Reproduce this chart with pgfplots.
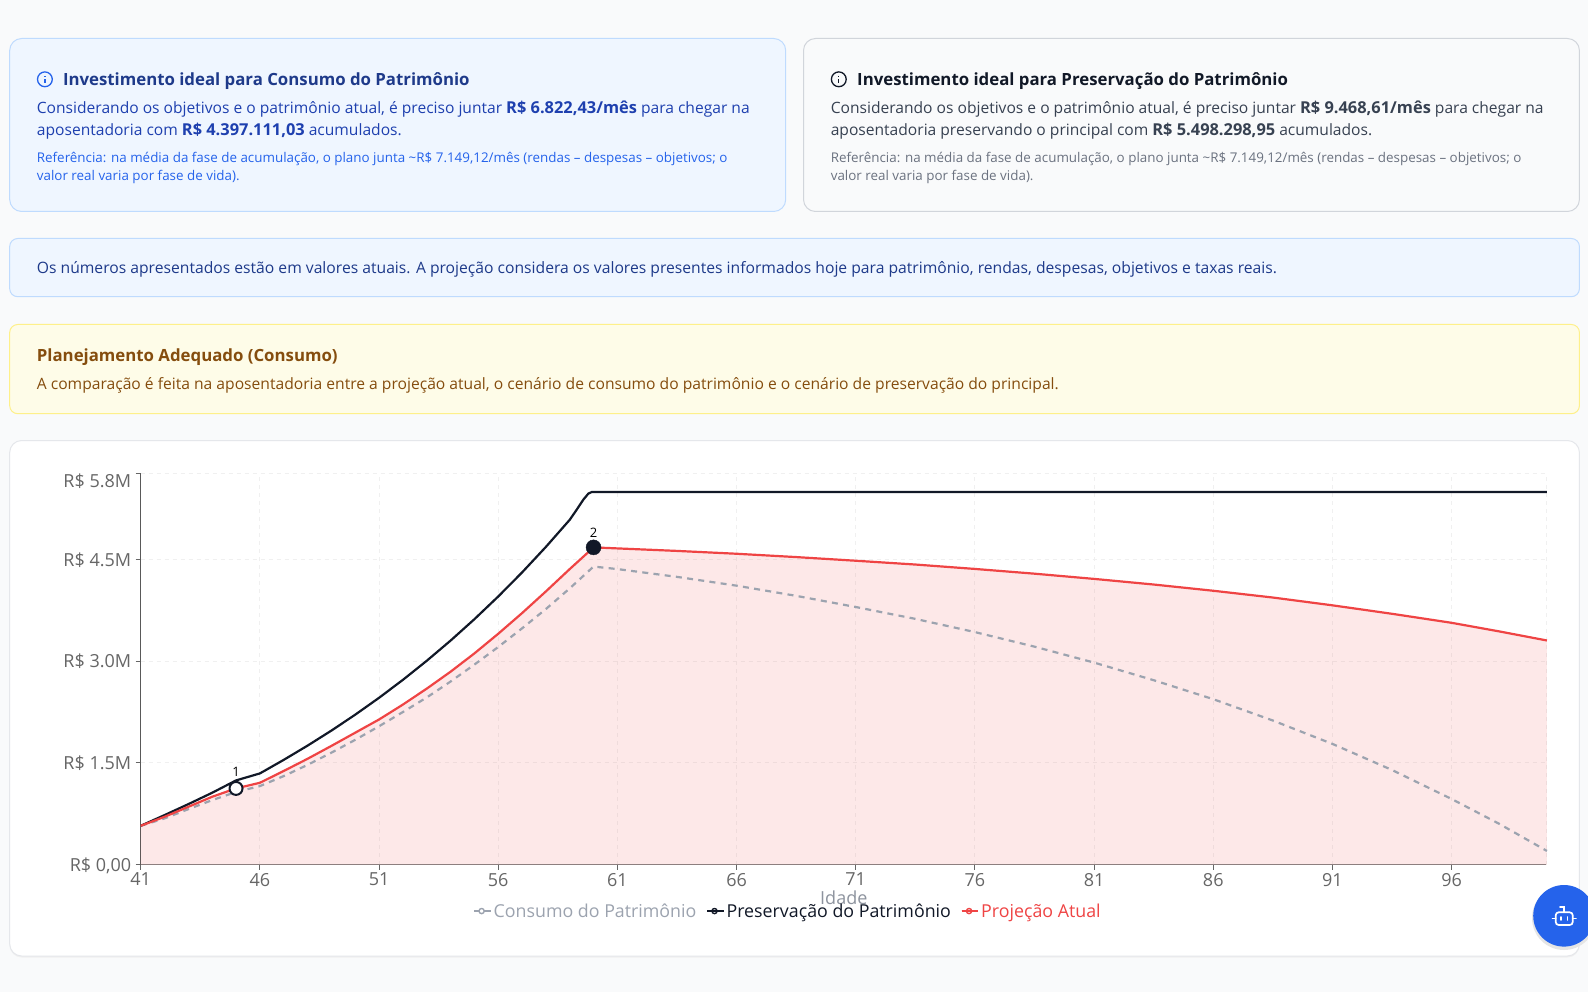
\documentclass[border=0pt]{standalone}
\usepackage{pgfplots}
\pgfplotsset{compat=1.18}
\usepackage{fontspec}
\setmainfont{Open Sans}
\newcommand{\semib}{\bfseries}
\definecolor{pagebg}{HTML}{F9FAFB}
\definecolor{bluefill}{HTML}{EFF6FF}
\definecolor{blueborder}{HTML}{BFDBFE}
\definecolor{bluetitle}{HTML}{1E3A8A}
\definecolor{bluebody}{HTML}{1E40AF}
\definecolor{bluesmall}{HTML}{2563EB}
\definecolor{grayborder}{HTML}{D1D5DB}
\definecolor{graytitle}{HTML}{111827}
\definecolor{graybody}{HTML}{374151}
\definecolor{graysmall}{HTML}{6B7280}
\definecolor{yelfill}{HTML}{FEFCE8}
\definecolor{yelborder}{HTML}{FEF08A}
\definecolor{yeltext}{HTML}{854D0E}
\definecolor{cardborder}{HTML}{E5E7EB}
\definecolor{serred}{HTML}{EF4444}
\definecolor{sergray}{HTML}{9CA3AF}
\definecolor{sernavy}{HTML}{111827}
\definecolor{ticktext}{HTML}{666666}
\newcommand{\fs}[1]{\fontsize{#1}{#1}\selectfont}
\newcommand{\bb}[1]{{\fs{16.4}\bfseries #1}}
\pgfplotstableread{
age val
41 0.571
42 0.729
43 0.891
44 1.059
45 1.241
46 1.344
47 1.544
48 1.754
49 1.976
50 2.211
51 2.460
52 2.725
53 3.006
54 3.304
55 3.620
56 3.955
57 4.310
58 4.687
59 5.087
59.3 5.240
59.57 5.384
59.78 5.473
59.93 5.498
70 5.498
80 5.498
90 5.498
100 5.498
}\preserv
\pgfplotstableread{
age val
41 0.571
42 0.704
43 0.852
44 1.000
45 1.123
46 1.206
47 1.380
48 1.560
49 1.750
50 1.945
51 2.140
52 2.360
53 2.595
54 2.845
55 3.115
56 3.405
57 3.710
58 4.030
59 4.360
60 4.680
61 4.665
63.5 4.628
66 4.586
68.5 4.537
71 4.483
73.5 4.427
76 4.362
78.5 4.292
81 4.215
83.5 4.132
86 4.040
88.5 3.940
91 3.825
93.5 3.700
96 3.567
98 3.440
100 3.306
}\atual
\pgfplotstableread{
age val
41 0.571
42 0.680
43 0.817
44 0.950
45 1.070
46 1.157
47 1.305
48 1.470
49 1.650
50 1.840
51 2.040
52 2.250
53 2.465
54 2.700
55 2.950
56 3.210
57 3.485
58 3.770
59 4.075
60 4.397
61 4.360
63.5 4.245
66 4.115
68.5 3.965
71 3.800
73.5 3.625
76 3.430
78.5 3.215
81 2.980
83.5 2.720
86 2.440
88.5 2.125
91 1.780
93.5 1.395
96 0.967
98 0.600
100 0.200
}\consumo
\begin{document}
\begin{tikzpicture}[x=1pt,y=-1pt]
\clip (0,0) rectangle (1588,992);
\fill[pagebg] (0,0) rectangle (1588,992);
% cards
\draw[rounded corners=12pt,fill=bluefill,draw=blueborder,line width=1pt] (9.7,38.5) rectangle (785.7,211.5);
\draw[rounded corners=12pt,fill=pagebg,draw=grayborder,line width=1pt] (803.5,38.5) rectangle (1579.4,211.5);
\draw[rounded corners=8pt,fill=bluefill,draw=blueborder,line width=1pt] (9.7,238.5) rectangle (1579.4,296.7);
\draw[rounded corners=8pt,fill=yelfill,draw=yelborder,line width=1pt] (9.7,324.5) rectangle (1579.4,413.7);
\fill[black!6,rounded corners=12pt] (9.7,441.5) rectangle (1579.4,957.5);
\draw[rounded corners=12pt,fill=white,draw=cardborder,line width=1pt] (9.7,440.5) rectangle (1579.4,956);
% info icons
\draw[bluesmall,line width=1.3pt] (44.9,79.3) circle (7.4);
\draw[bluesmall,line width=1.3pt] (44.9,79.2)--(44.9,82.8) (44.9,75.8)--(44.9,76.3);
\draw[graytitle,line width=1.3pt] (838.8,79.3) circle (7.4);
\draw[graytitle,line width=1.3pt] (838.8,79.2)--(838.8,82.8) (838.8,75.8)--(838.8,76.3);
% card 1 text
\node[anchor=base west,inner sep=0,text=bluetitle] at (62.8,85.5) {\fs{16.8}\semib Investimento ideal para Consumo do Patrimônio};
\node[anchor=base west,inner sep=0,text=bluebody] at (36.7,113.3) {\fs{15.6}Considerando os objetivos e o patrimônio atual, é preciso juntar \bb{R\$ 6.822,43/mês} para chegar na};
\node[anchor=base west,inner sep=0,text=bluebody] at (36.7,135.4) {\fs{15.6}aposentadoria com \bb{R\$ 4.397.111,03} acumulados.};
\node[anchor=base west,inner sep=0,text=bluesmall] at (36.7,162.5) {\fs{13.4}Referência: na média da fase de acumulação, o plano junta \textasciitilde R\$ 7.149,12/mês (rendas – despesas – objetivos; o};
\node[anchor=base west,inner sep=0,text=bluesmall] at (36.7,180.5) {\fs{13.4}valor real varia por fase de vida).};
% card 2 text
\node[anchor=base west,inner sep=0,text=graytitle] at (857,85.5) {\fs{16.8}\semib Investimento ideal para Preservação do Patrimônio};
\node[anchor=base west,inner sep=0,text=graybody] at (830.6,113.3) {\fs{15.6}Considerando os objetivos e o patrimônio atual, é preciso juntar \bb{R\$ 9.468,61/mês} para chegar na};
\node[anchor=base west,inner sep=0,text=graybody] at (830.6,135.4) {\fs{15.6}aposentadoria preservando o principal com \bb{R\$ 5.498.298,95} acumulados.};
\node[anchor=base west,inner sep=0,text=graysmall] at (830.6,162.5) {\fs{13.4}Referência: na média da fase de acumulação, o plano junta \textasciitilde R\$ 7.149,12/mês (rendas – despesas – objetivos; o};
\node[anchor=base west,inner sep=0,text=graysmall] at (830.6,180.5) {\fs{13.4}valor real varia por fase de vida).};
% band
\node[anchor=base west,inner sep=0,text=bluetitle] at (36.7,273.3) {\fs{15.68}Os números apresentados estão em valores atuais. A projeção considera os valores presentes informados hoje para patrimônio, rendas, despesas, objetivos e taxas reais.};
% yellow
\node[anchor=base west,inner sep=0,text=yeltext] at (36.7,361) {\fs{16.8}\semib Planejamento Adequado (Consumo)};
\node[anchor=base west,inner sep=0,text=yeltext] at (36.7,389) {\fs{15.64}A comparação é feita na aposentadoria entre a projeção atual, o cenário de consumo do patrimônio e o cenário de preservação do principal.};
% chart
\begin{axis}[
  at={(140.7pt,-864.5pt)},anchor=south west,
  scale only axis,width=1406.3pt,height=391.2pt,
  xmin=41,xmax=100,ymin=0,ymax=5.7733,
  axis x line*=bottom,axis y line*=left,
  axis line style={-},
  x axis line style={line width=1.8pt,color=black!48},
  y axis line style={line width=1pt,color=black!65},
  tick align=outside,major tick length=5pt,
  tick style={color=black!60,line width=1pt},
  xtick={41,46,...,96},
  extra x ticks={100},extra x tick labels={},
  extra x tick style={grid=major,major tick length=0pt},
  ytick={0,1.5,3,4.5,5.7733},
  yticklabels={{\raisebox{-6.5pt}[0pt][0pt]{R\$ 0,00}},{\raisebox{-6.5pt}[0pt][0pt]{R\$ 1.5M}},{\raisebox{-6.5pt}[0pt][0pt]{R\$ 3.0M}},{\raisebox{-6.5pt}[0pt][0pt]{R\$ 4.5M}},{\raisebox{-14.5pt}[0pt][0pt]{R\$ 5.8M}}},
  tick label style={font=\fs{18},text=ticktext},
  /pgf/number format/assume math mode=true,
  yticklabel style={xshift=-1pt},
  grid=major,
  grid style={dash pattern=on 4pt off 4pt,color=black!6,line width=1pt},
  xlabel={Idade},
  xlabel style={at={(axis description cs:0.5,-0.0856)},anchor=center,font=\fs{18},text=sergray!90!black},
  clip=false,
  legend cell align=left,
  legend style={at={(axis description cs:0.4602,-0.119)},anchor=center,draw=none,fill=none,
    legend columns=3,font=\fs{17.8},inner sep=0pt,
    /tikz/every even column/.append style={column sep=7.5pt}},
  legend image code/.code={
    \draw[#1,line width=1.6pt,solid] (0pt,0pt)--(15pt,0pt);
    \draw[#1,line width=1.4pt,solid,fill=white] (7.5pt,0pt) circle (2.6pt);
    \path (0pt,0pt)--(16.5pt,0pt);
  },
]
\addplot[draw=none,fill=serred,fill opacity=0.12,forget plot] table[x=age,y=val]{\atual} \closedcycle;
\addplot[sergray,line width=2.2pt,dash pattern=on 6pt off 5.3pt,line join=round] table[x=age,y=val]{\consumo};
\addlegendentry{\textcolor{sergray}{Consumo do Patrimônio}}
\addplot[sernavy,line width=2.2pt,line join=round] table[x=age,y=val]{\preserv};
\addlegendentry{\textcolor{sernavy}{Preservação do Patrimônio}}
\addplot[serred,line width=2.2pt,line join=round] table[x=age,y=val]{\atual};
\addlegendentry{\textcolor{serred}{Projeção Atual}}
\addplot[forget plot,only marks,mark=*,mark size=6.5pt,mark options={fill=white,draw=sernavy,line width=2pt},
  nodes near coords={1},nodes near coords style={font=\fs{13},text=black,yshift=8pt}] coordinates {(45,1.123)};
\addplot[forget plot,only marks,mark=*,mark size=7.5pt,mark options={fill=sernavy,draw=sernavy},
  nodes near coords={2},nodes near coords style={font=\fs{13},text=black,yshift=6.5pt}] coordinates {(60,4.68)};
\end{axis}
% chat button
\fill[black!10] (1564,918) circle (32);
\fill[bluesmall] (1564,915.8) circle (30.8);
\draw[white,line width=1.7pt,rounded corners=3pt] (1555.7,912.3) rectangle (1572.7,925);
\draw[white,line width=1.7pt,line cap=round] (1552.5,918.5)--(1555.7,918.5) (1572.7,918.5)--(1576,918.5);
\draw[white,line width=1.7pt,line cap=round] (1564,912.3)--(1564,907) -- (1560,907);
\draw[white,line width=1.7pt,line cap=round] (1561,917)--(1561,920) (1567.5,917)--(1567.5,920);
\end{tikzpicture}
\end{document}
